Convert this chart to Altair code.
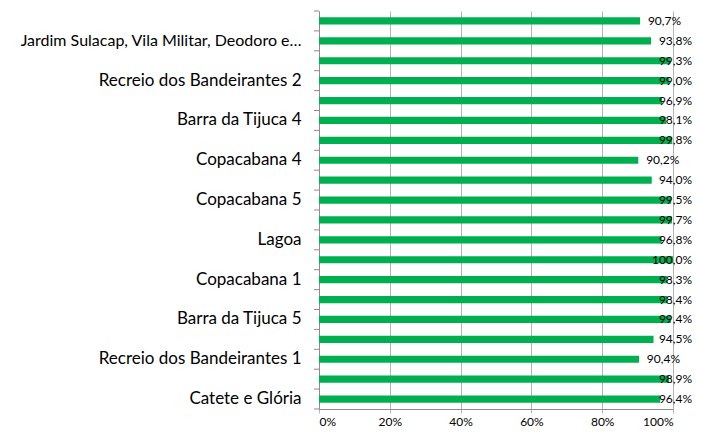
import altair as alt
import pandas as pd

# top-to-bottom order
values = [90.7, 93.8, 99.3, 99.0, 96.9, 98.1, 99.8, 90.2, 94.0, 99.5,
          99.7, 96.8, 100.0, 98.3, 98.4, 99.4, 94.5, 90.4, 98.9, 96.4]
labels = ["", "Jardim Sulacap, Vila Militar, Deodoro e…",
          "", "Recreio dos Bandeirantes 2",
          "", "Barra da Tijuca 4",
          "", "Copacabana 4",
          "", "Copacabana 5",
          "", "Lagoa",
          "", "Copacabana 1",
          "", "Barra da Tijuca 5",
          "", "Recreio dos Bandeirantes 1",
          "", "Catete e Glória"]
x_ticks = [0, 10, 20, 30, 40, 50, 60, 70, 80, 90, 100]

df = pd.DataFrame({"idx": list(range(len(values))), "value": values})
label_arr = "[" + ",".join("'" + l + "'" for l in labels) + "]"
order = list(range(len(values)))

FONT = "Lato"
GREEN = "#00B050"
GRID = "#B4B4B4"
AXIS = "#8C8C8C"

x_scale = alt.Scale(domain=[0, 100], nice=False, clamp=False)
y_scale = alt.Scale(paddingInner=0, paddingOuter=0)

y_enc = alt.Y("idx:O", sort=order, scale=y_scale,
              axis=alt.Axis(labelExpr=label_arr + "[datum.value]", ticks=False,
                            labelFontSize={"condition": {"test": "datum.value == 1",
                                                         "value": 16},
                                           "value": 17},
                            labelColor="#000000", labelFont=FONT,
                            labelPadding=18, domainColor=AXIS, title=None,
                            labelLimit=330))
x_enc = alt.X("value:Q", scale=x_scale,
              axis=alt.Axis(values=x_ticks, labelExpr="datum.value + '%'",
                            grid=True, gridColor=GRID, domainColor=AXIS,
                            tickColor=GRID, tickSize=4, labelFontSize=12,
                            labelFont=FONT, labelColor="#000000",
                            labelOverlap=False, labelPadding=3, title=None))

bars = alt.Chart(df).mark_bar(color=GREEN, cornerRadius=0,
                              height={"band": 0.36}).encode(x=x_enc, y=y_enc)

text = alt.Chart(df).transform_calculate(
    pos="min(datum.value + 11.6, 105.4)",
    lab="replace(format(datum.value, '.1f'), '.', ',') + '%'",
).mark_text(align="right", baseline="middle", font=FONT, fontSize=12,
            color="#000000").encode(
    x=alt.X("pos:Q", scale=x_scale),
    y=alt.Y("idx:O", sort=order, scale=y_scale),
    text="lab:N")

ticks_left = alt.Chart(df).mark_rule(color=AXIS).encode(
    y=alt.Y("idx:O", sort=order, scale=y_scale, bandPosition=0),
    x=alt.value(-5), x2=alt.value(0))

tick_last = alt.Chart(df).transform_filter(
    alt.datum.idx == len(values) - 1
).mark_rule(color=AXIS).encode(
    y=alt.Y("idx:O", sort=order, scale=y_scale, bandPosition=1),
    x=alt.value(-5), x2=alt.value(0))

chart = alt.layer(bars, text, ticks_left, tick_last).properties(
    width=354, height=398,
    autosize=alt.AutoSizeParams(type="none"),
    padding={"left": 311, "top": 3, "right": 20, "bottom": 21},
).configure_view(stroke=None).configure_axis(gridWidth=1, domainWidth=1)

chart.save("out.html", embed_options={"renderer": "svg", "actions": False})
